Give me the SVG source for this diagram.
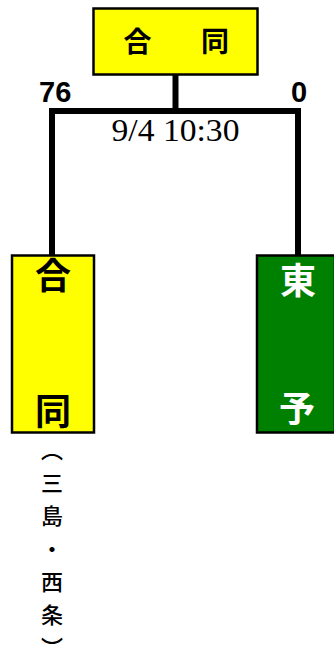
<svg xmlns="http://www.w3.org/2000/svg" width="334" height="645" viewBox="0 0 334 645">
<style>
.box{stroke:#000;stroke-width:2.5}
.yel{fill:#ffff00}
.grn{fill:#008000}
.cjk{font-family:"Noto Sans CJK JP","Noto Sans",sans-serif;font-weight:bold;text-anchor:middle}
.score{font-family:"Liberation Sans",Arial,sans-serif;font-weight:bold;font-size:29px}
.ln{stroke:#000;stroke-width:6;fill:none}
</style>
<rect width="334" height="645" fill="#fff"/>
<g id="connectors">
<line class="ln" x1="175.5" y1="75" x2="175.5" y2="111"/>
<polyline class="ln" points="52,255 52,111 298,111 298,255"/>
</g>
<g id="node-top">
<rect class="box yel" x="93.5" y="8.5" width="164" height="66"/>
<text class="cjk" x="137.5" y="51.5" font-size="28">合</text>
<text class="cjk" x="215" y="51.5" font-size="28">同</text>
</g>
<g id="labels">
<text class="score" x="39" y="102">76</text>
<text class="score" x="291" y="102">0</text>
<text x="111.5" y="140.5" font-family="Liberation Serif,serif" font-size="32" textLength="128" lengthAdjust="spacingAndGlyphs">9/4 10:30</text>
</g>
<g id="node-left">
<rect class="box yel" x="12" y="255.5" width="82" height="177"/>
<text class="cjk" x="53" y="289" font-size="36">合</text>
<text class="cjk" x="53" y="424.5" font-size="36">同</text>
<text x="52" y="439" font-family="Noto Sans CJK JP,sans-serif" font-weight="500" font-size="22" writing-mode="vertical-rl" letter-spacing="11">（三島・西条<tspan letter-spacing="0">）</tspan></text>
</g>
<g id="node-right">
<rect class="box grn" x="257" y="255.5" width="78" height="177"/>
<text class="cjk" x="298" y="293.5" font-size="36" fill="#fff">東</text>
<text class="cjk" x="297" y="422" font-size="36" fill="#fff">予</text>
</g>
</svg>
